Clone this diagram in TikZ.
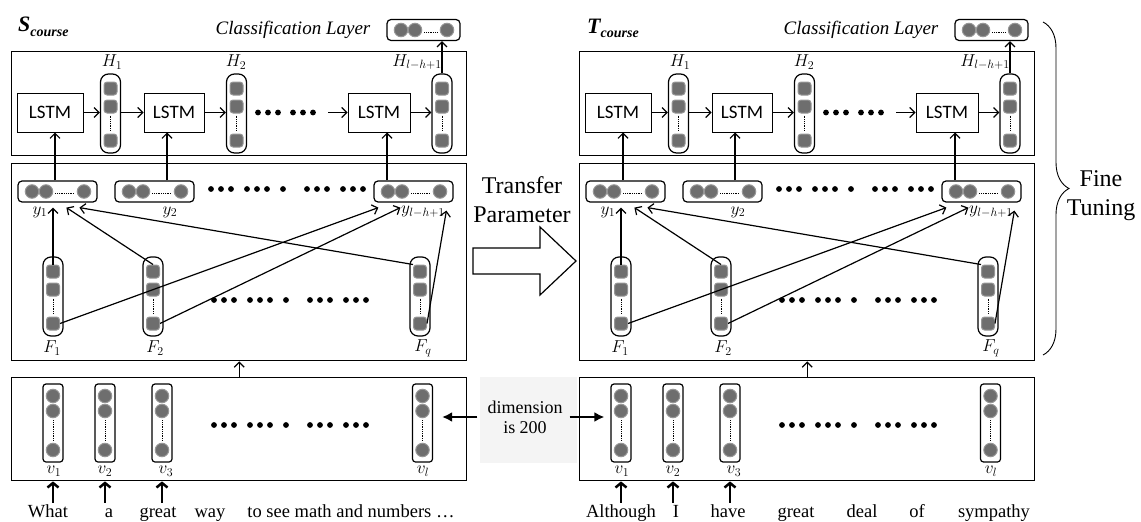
\documentclass[tikz,border=0pt]{standalone}
\usepackage{fontspec}
\setmainfont{Liberation Serif}
\newfontfamily\tnr{Liberation Serif}
\newfontfamily\calib{Carlito}
\usetikzlibrary{arrows.meta,calc,decorations.pathreplacing}
\definecolor{dotfill}{RGB}{110,110,110}
\definecolor{dotring}{RGB}{150,150,150}
\definecolor{dimbg}{RGB}{244,244,244}
\tikzset{
  circ/.style={circle,fill=dotfill,draw=dotring,line width=1pt,inner sep=0pt,minimum size=13.5pt},
  sq/.style={rectangle,rounded corners=3pt,fill=dotfill,draw=dotring,line width=1pt,inner sep=0pt,minimum size=13pt},
  hbox/.style={draw,line width=1.2pt,rounded corners=4pt,inner sep=0pt,minimum height=21pt},
  capsule/.style={draw,line width=1.2pt,rounded corners=8pt,inner sep=0pt,minimum width=20pt,minimum height=79pt},
  vbox/.style={draw,line width=1.2pt,rounded corners=3pt,inner sep=0pt,minimum width=20pt,minimum height=78pt},
  panel/.style={draw,line width=1.4pt,inner sep=0pt,anchor=north west,minimum width=455pt},
  lstm/.style={draw,line width=1pt,inner sep=0pt,minimum height=39pt,font=\calib\fontsize{19}{21}\selectfont},
  dotsline/.style={densely dotted,line width=0.8pt},
  conn/.style={line width=1.2pt,-{Straight Barb[length=5pt,width=10pt]}},
  thickarr/.style={line width=2.5pt,-{Straight Barb[length=4.5pt,width=11pt]}},
  dimarr/.style={line width=2pt,-{Latex[length=10pt,width=10pt]}},
  lab/.style={inner sep=0pt,font=\fontsize{18}{20}\selectfont},
  word/.style={inner sep=0pt,anchor=base,text height=12pt,text depth=4pt,font=\tnr\fontsize{18.5}{20}\selectfont},
  big/.style={inner sep=0pt,align=center,font=\tnr\fontsize{24}{29}\selectfont},
  ttlbox/.style={inner sep=0pt,font=\tnr\bfseries\itshape\fontsize{22}{24}\selectfont},
  pics/hvec/.style={code={
    \node[hbox,minimum width=#1pt] (-box) at (0,0) {};
    \node[circ] (-a) at ({-#1/2+14},0) {};
    \node[circ] (-b) at ({-#1/2+28},0) {};
    \node[circ] (-c) at ({#1/2-13},0) {};
    \draw[dotsline] ($(-b.east)+(2,2)$) -- ($(-c.west)+(-2,2)$);
  }},
  pics/cap/.style={code={
    \node[capsule] (-box) at (0,0) {};
    \node[sq] (-a) at (0,-25) {};
    \node[sq] (-b) at (0,-7) {};
    \node[sq] (-c) at (0,27) {};
    \draw[dotsline] ($(-b.south)+(0,2)$) -- ($(-c.north)+(0,-2)$);
  }},
  pics/vv/.style={code={
    \node[vbox] (-box) at (0,0) {};
    \node[circ] (-a) at (0,-27) {};
    \node[circ] (-b) at (0,-12) {};
    \node[circ] (-c) at (0,27) {};
    \draw[dotsline] ($(-b.south)+(0,2)$) -- ($(-c.north)+(0,-2)$);
  }},
}
\newcommand\dotrow[3]{\foreach \dx in {#3}{\fill ({#1+\dx},#2) circle (2.9pt);}}
\newcommand\drawpanel[1]{%
  \node[panel,minimum height=104pt] (#1top) at (11,51) {};
  \node[panel,minimum height=197pt] (#1mid) at (11,163) {};
  \node[panel,minimum height=103pt] (#1bot) at (11,377) {};
  \pic (#1C) at (423.5,30) {hvec=73};
  \node[inner sep=0pt,font=\tnr\itshape\fontsize{19}{20}\selectfont] (#1ct) at (293,30) {Classification Layer};
  \node[lstm,minimum width=66pt] (#1L1) at (50,112.5) {LSTM};
  \node[lstm,minimum width=60pt] (#1L2) at (174,112.5) {LSTM};
  \node[lstm,minimum width=62pt] (#1L3) at (379,112.5) {LSTM};
  \pic (#1H1) at (110.5,113.5) {cap};
  \pic (#1H2) at (236.5,113.5) {cap};
  \pic (#1H3) at (442,113.5) {cap};
  \node[lab] (#1h1) at (112,62) {$H_1$};
  \node[lab] (#1h2) at (236,62) {$H_2$};
  \node[lab] (#1h3) at (417,62) {$H_{l-h+1}$};
  \draw[conn] (#1L1.east) -- (#1L1.east -| #1H1-box.west);
  \draw[conn] (#1H1-box.east |- #1L2.west) -- (#1L2.west);
  \draw[conn] (#1L2.east) -- (#1L2.east -| #1H2-box.west);
  \dotrow{258}{112.5}{0,10,20,35,45,55}
  \coordinate (#1dd) at (328,112.5);
  \draw[conn] (#1dd) -- (#1L3.west);
  \draw[conn] (#1L3.east) -- (#1L3.east -| #1H3-box.west);
  \draw[conn] (#1H3-box.north) -- (#1H3-box.north |- #1C-box.south);
  \pic (#1Y1) at (57.5,191.5) {hvec=79};
  \pic (#1Y2) at (154.5,191.5) {hvec=79};
  \pic (#1Y3) at (413.5,191.5) {hvec=79};
  \node[lab] (#1y1) at (40,212) {$y_1$};
  \node[lab] (#1y2) at (170,212) {$y_2$};
  \node[lab] (#1y3) at (423,212) {$y_{l-h+1}$};
  \dotrow{211}{189}{0,10,20,36,46,56,72,96,106,116,132,142,152}
  \coordinate (#1u1) at ($(#1Y1-box.north)+(-2.5,0)$);
  \draw[conn] (#1u1) -- (#1u1 |- #1L1.south);
  \coordinate (#1u2) at ($(#1Y2-box.north)+(12.5,0)$);
  \draw[conn] (#1u2) -- (#1u2 |- #1L2.south);
  \coordinate (#1u3) at ($(#1Y3-box.north)+(-26.5,0)$);
  \draw[conn] (#1u3) -- (#1u3 |- #1L3.south);
  \pic (#1F1) at (53,296.5) {cap};
  \pic (#1F2) at (153,296.5) {cap};
  \pic (#1Fq) at (420,296.5) {cap};
  \node[lab] (#1f1) at (52,348) {$F_1$};
  \node[lab] (#1f2) at (155,348) {$F_2$};
  \node[lab] (#1fq) at (423,348) {$F_q$};
  \dotrow{214}{300}{0,10,20,36,46,56,72,96,106,116,132,142,152}
  \draw[conn] (#1F1-a.north) -- ($(#1F1-a |- #1Y1-box.south)+(0,5)$);
  \draw[conn] (#1F2-a.north) -- ($(#1Y1-box.south west)+(49,5)$);
  \draw[conn] (#1Fq-a.north west) -- ($(#1Y1-box.south west)+(62,5)$);
  \draw[conn] (#1F1-c.east) -- ($(#1Y3-box.south west)+(5,5)$);
  \draw[conn] (#1F2-c.east) -- ($(#1Y3-box.south west)+(27,5)$);
  \draw[conn] (#1Fq-c.east) -- ($(#1Y3-box.south west)+(73,8)$);
  \draw[conn] (#1bot.north) -- (#1mid.south);
  \pic (#1V1) at (53,423) {vv};
  \pic (#1V2) at (105,423) {vv};
  \pic (#1V3) at (162,423) {vv};
  \pic (#1Vl) at (422.5,423) {vv};
  \node[lab] (#1v1) at (54,471) {$v_1$};
  \node[lab] (#1v2) at (105,471) {$v_2$};
  \node[lab] (#1v3) at (166,471) {$v_3$};
  \node[lab] (#1vl) at (423,471) {$v_l$};
  \dotrow{214}{425}{0,10,20,36,46,56,72,96,106,116,132,142,152}
}
\begin{document}
\begin{tikzpicture}[x=1pt,y=-1pt]
\useasboundingbox (0,0) rectangle (1141,522);
\begin{scope}
  \drawpanel{L}
\end{scope}
\begin{scope}[xshift=568pt]
  \drawpanel{R}
\end{scope}
\node[ttlbox,anchor=base west] (stitle) at (18,31) {S\raisebox{-5pt}{\fontsize{14}{14}\selectfont course}};
\node[ttlbox,anchor=base west] (ttitle) at (587,33) {T\raisebox{-5pt}{\fontsize{14}{14}\selectfont course}};
\node[big] (transfer) at (522,200) {Transfer\\Parameter};
\draw[line width=1.2pt] (473,248) -- (540,248) -- (540,227) -- (576,261) -- (540,295) -- (540,274) -- (473,274) -- cycle;
\node[fill=dimbg,minimum width=97pt,minimum height=86pt,inner sep=0pt] (dimbgbox) at (528.5,420) {};
\node[inner sep=0pt,align=center,font=\tnr\fontsize{18}{20}\selectfont] (dim) at (525,417) {dimension\\is 200};
\draw[dimarr] ($(dim.west)+(-10,0)$) -- ($(dim.west -| LVl-box.east)+(9,0)$);
\draw[dimarr] ($(dim.east)+(7,0)$) -- ($(dim.east -| RV1-box.west)+(-6,0)$);
\coordinate (bt) at (1043,22);
\coordinate (bb) at (1043,355);
\draw[decorate,decoration={brace,amplitude=26pt},line width=0.9pt] (bt) -- (bb);
\node[big] (fine) at (1101,196) {Fine\\Tuning};
\node[word] (lw1) at (48,517) {What};
\node[word] (lw2) at (109,517) {a};
\node[word] (lw3) at (158,517) {great};
\node[word] (lw4) at (210,517) {way};
\node[word] (lw5) at (351,517) {to see math and numbers …};
\draw[thickarr] ($(LV1-box |- lw1.north)+(0,-2)$) -- (LV1-box |- Lbot.south);
\draw[thickarr] ($(LV2-box |- lw1.north)+(0,-2)$) -- (LV2-box |- Lbot.south);
\draw[thickarr] ($(LV3-box |- lw1.north)+(0,-2)$) -- (LV3-box |- Lbot.south);
\node[word] (rw1) at (621,517) {Although};
\node[word] (rw2) at (676,517) {I};
\node[word] (rw3) at (728,517) {have};
\node[word] (rw4) at (796,517) {great};
\node[word] (rw5) at (862,517) {deal};
\node[word] (rw6) at (917,517) {of};
\node[word] (rw7) at (994,517) {sympathy};
\draw[thickarr] ($(RV1-box |- rw1.north)+(0,-2)$) -- (RV1-box |- Rbot.south);
\draw[thickarr] ($(RV2-box |- rw1.north)+(0,-2)$) -- (RV2-box |- Rbot.south);
\draw[thickarr] ($(RV3-box |- rw1.north)+(0,-2)$) -- (RV3-box |- Rbot.south);
\end{tikzpicture}
\end{document}
